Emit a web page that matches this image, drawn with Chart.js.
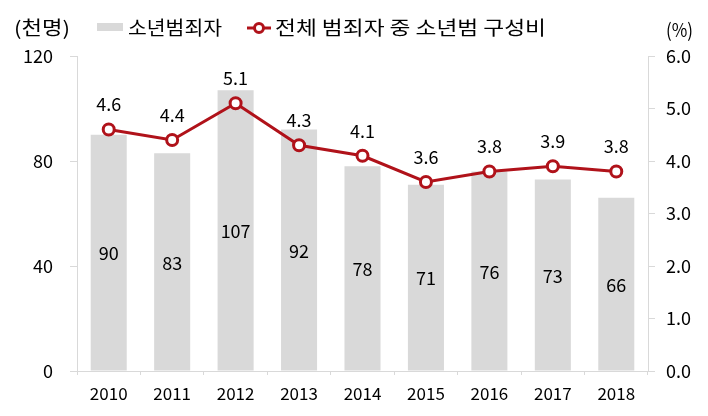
<!DOCTYPE html>
<html>
<head>
<meta charset="utf-8">
<script src="https://cdn.jsdelivr.net/npm/chart.js@4"></script>
<style>
  html, body { margin: 0; padding: 0; background: #fff; }
  #wrap { width: 708px; height: 416px; }
</style>
</head>
<body>
<div id="wrap"><canvas id="chart" width="708" height="416"></canvas></div>
<script>
// 데이터
const years = ['2010', '2011', '2012', '2013', '2014', '2015', '2016', '2017', '2018'];
const juvenileOffenders = [90, 83, 107, 92, 78, 71, 76, 73, 66];
const juvenileShare = [4.6, 4.4, 5.1, 4.3, 4.1, 3.6, 3.8, 3.9, 3.8];
const leftTicks = [0, 40, 80, 120];
const rightTicks = [0, 1, 2, 3, 4, 5, 6];

const FONT = "'Noto Sans CJK KR', 'Noto Sans', sans-serif";
const BAR_COLOR = '#d9d9d9';
const LINE_COLOR = '#b0121a';
const AXIS_COLOR = '#d9d9d9';

// 글자를 정해진 폭에 맞춰 그리기
function fitText(ctx, text, x, y, width) {
    const w = ctx.measureText(text).width;
    ctx.save();
    ctx.translate(x, y);
    ctx.scale(width / w, 1);
    ctx.fillText(text, 0, 0);
    ctx.restore();
}

// 값 라벨 + 범례 + 단위 표시
const labelPlugin = {
    id: 'labels',
    afterDatasetsDraw(chart) {
        const ctx = chart.ctx;
        ctx.save();
        ctx.fillStyle = '#000';
        ctx.font = '18px ' + FONT;
        ctx.textAlign = 'center';
        ctx.textBaseline = 'middle';
        const barMeta = chart.getDatasetMeta(1);
        barMeta.data.forEach((bar, i) => {
            const yMid = (bar.y + bar.base) / 2;
            ctx.fillText(String(juvenileOffenders[i]), bar.x, yMid + 1);
        });
        const lineMeta = chart.getDatasetMeta(0);
        lineMeta.data.forEach((pt, i) => {
            ctx.fillText(juvenileShare[i].toFixed(1), pt.x, pt.y - 25);
        });

        // 단위
        ctx.textAlign = 'left';
        ctx.font = '19px ' + FONT;
        fitText(ctx, '(천명)', 14, 28, 56);
        fitText(ctx, '(%)', 666, 30, 27);

        // 범례
        ctx.fillStyle = BAR_COLOR;
        ctx.fillRect(97, 23, 26, 8);
        ctx.fillStyle = '#000';
        fitText(ctx, '소년범죄자', 128, 28, 94);
        ctx.strokeStyle = LINE_COLOR;
        ctx.lineWidth = 3;
        ctx.beginPath();
        ctx.moveTo(247, 28);
        ctx.lineTo(271, 28);
        ctx.stroke();
        ctx.beginPath();
        ctx.arc(259, 28, 4.5, 0, Math.PI * 2);
        ctx.fillStyle = '#fff';
        ctx.fill();
        ctx.stroke();
        ctx.fillStyle = '#000';
        fitText(ctx, '전체 범죄자 중 소년범 구성비', 275, 28, 271);
        ctx.restore();
    }
};

new Chart(document.getElementById('chart'), {
    type: 'bar',
    data: {
        labels: years,
        datasets: [
            {
                type: 'line',
                label: '전체 범죄자 중 소년범 구성비',
                data: juvenileShare,
                yAxisID: 'yRight',
                borderColor: LINE_COLOR,
                borderWidth: 3,
                pointRadius: 5.5,
                pointBorderWidth: 3,
                pointBackgroundColor: '#fff',
                pointBorderColor: LINE_COLOR,
                tension: 0
            },
            {
                label: '소년범죄자',
                data: juvenileOffenders,
                yAxisID: 'yLeft',
                backgroundColor: BAR_COLOR,
                categoryPercentage: 0.8,
                barPercentage: 0.71
            }
        ]
    },
    options: {
        responsive: false,
        animation: false,
        layout: { padding: { top: 56, left: 0, right: 0, bottom: 0 } },
        plugins: { legend: { display: false }, tooltip: { enabled: false } },
        scales: {
            x: {
                grid: { display: true, drawOnChartArea: false, drawTicks: true, tickLength: 4, color: AXIS_COLOR },
                border: { color: AXIS_COLOR },
                ticks: { color: '#000', font: { family: FONT, size: 17 }, padding: 8 },
                afterFit(scale) { scale.height = 45; }
            },
            yLeft: {
                position: 'left',
                min: 0,
                max: 120,
                afterBuildTicks(scale) { scale.ticks = leftTicks.map(v => ({ value: v })); },
                grid: { drawOnChartArea: false, tickLength: 7, color: AXIS_COLOR },
                border: { color: AXIS_COLOR },
                ticks: { color: '#000', font: { family: FONT, size: 18 }, padding: 17 },
                afterFit(scale) { scale.width = 77; }
            },
            yRight: {
                position: 'right',
                min: 0,
                max: 6,
                afterBuildTicks(scale) { scale.ticks = rightTicks.map(v => ({ value: v })); },
                grid: { drawOnChartArea: false, tickLength: 7, color: AXIS_COLOR },
                border: { color: AXIS_COLOR },
                ticks: {
                    color: '#000',
                    font: { family: FONT, size: 18 },
                    padding: 11,
                    callback: v => Number(v).toFixed(1)
                },
                afterFit(scale) { scale.width = 60; }
            }
        }
    },
    plugins: [labelPlugin]
});
</script>
</body>
</html>
